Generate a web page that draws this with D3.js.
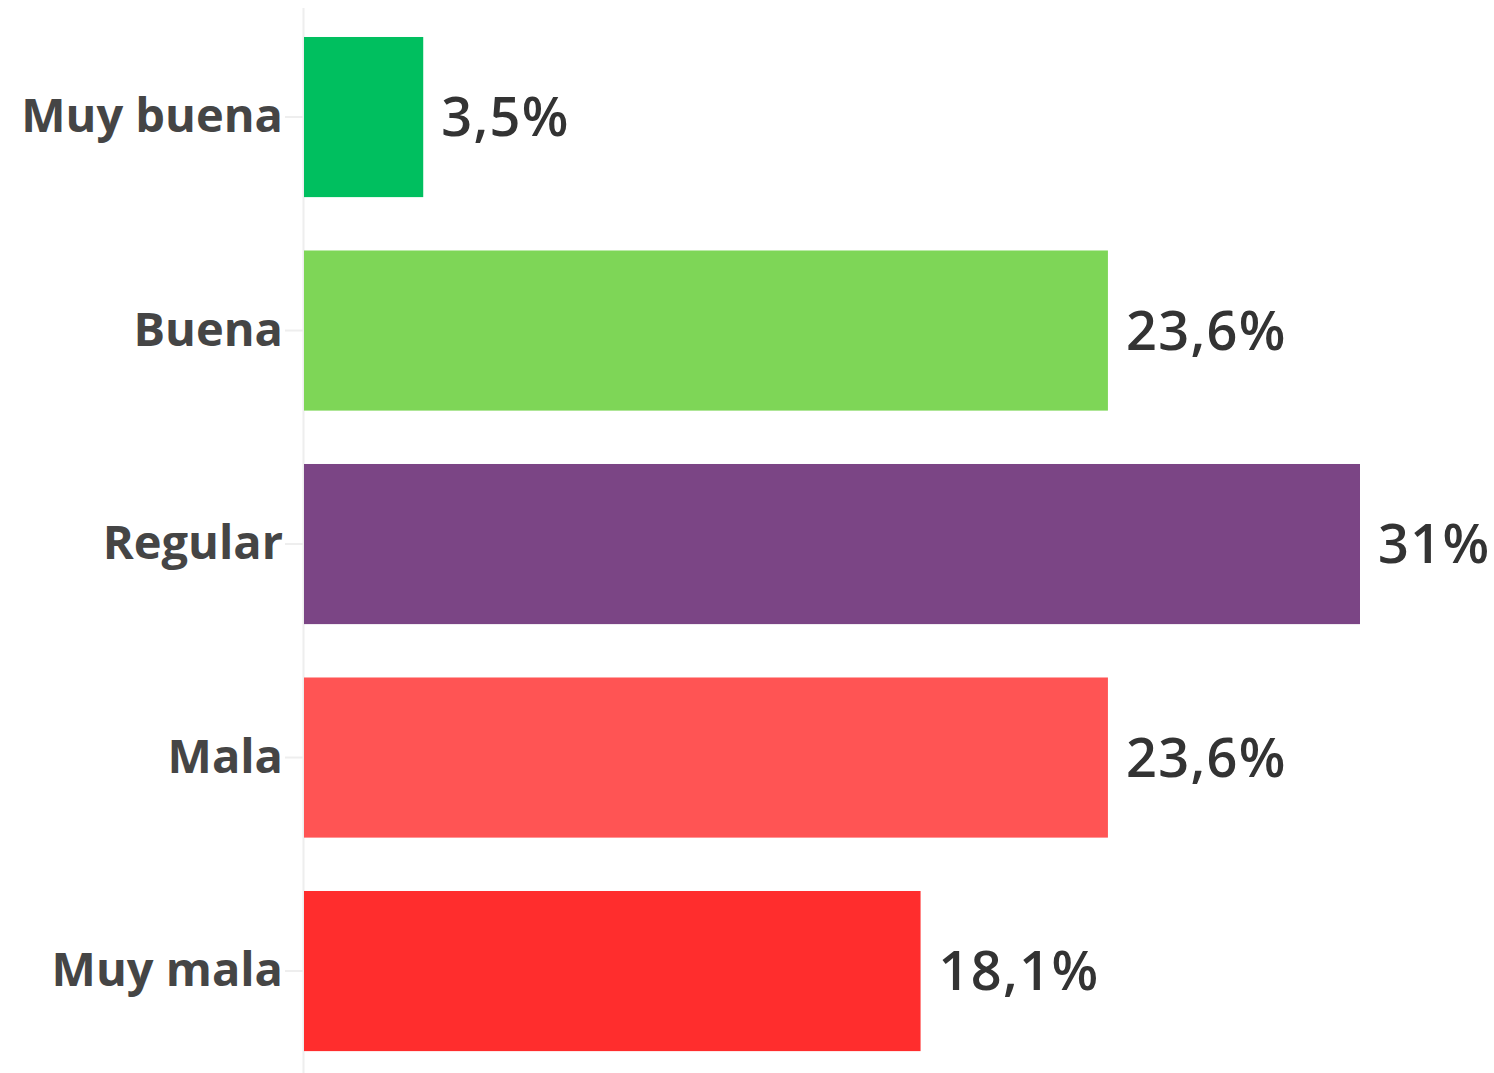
<!DOCTYPE html>
<html><head><meta charset="utf-8">
<script src="https://cdn.jsdelivr.net/npm/d3@7"></script>
<style>html,body{margin:0;padding:0;background:#fff;}</style>
</head><body>
<svg id="chart" width="1494" height="1073"></svg>
<script>
const categories = ["Muy buena", "Buena", "Regular", "Mala", "Muy mala"];
const values = [3.5, 23.6, 31, 23.6, 18.1];
const valueLabels = ["3,5%", "23,6%", "31%", "23,6%", "18,1%"];
const colors = ["#00bf5f", "#7ed657", "#7b4585", "#ff5454", "#ff2d2d"];

const svg = d3.select("#chart");
const W = 1494, H = 1073;

const x = d3.scaleLinear().domain([0, 31]).range([304, 1360]);
const y = d3.scaleBand().domain(categories).range([10.3, 1077.8]).paddingInner(0.25).paddingOuter(0.125);

svg.append("line").attr("x1", 303.5).attr("x2", 303.5).attr("y1", 8).attr("y2", H)
  .attr("stroke", "#eeeeee").attr("stroke-width", 2);

const yAxis = d3.axisLeft(y).tickSize(18).tickPadding(2);
const ga = svg.append("g").attr("transform", "translate(303,0)").call(yAxis);
ga.select(".domain").remove();
ga.selectAll(".tick line").attr("stroke", "#eeeeee").attr("stroke-width", 2);
ga.selectAll(".tick text")
  .attr("font-family", "'Open Sans', sans-serif").attr("font-weight", 700)
  .attr("font-size", 47).attr("fill", "#454545");

svg.selectAll("rect.bar").data(categories).join("rect").attr("class", "bar")
  .attr("x", x(0)).attr("y", d => y(d))
  .attr("width", (d, i) => x(values[i]) - x(0))
  .attr("height", y.bandwidth())
  .attr("fill", (d, i) => colors[i]);

svg.selectAll("text.val").data(categories).join("text").attr("class", "val")
  .attr("x", (d, i) => x(values[i]) + 18)
  .attr("y", d => y(d) + y.bandwidth() / 2)
  .attr("dy", "0.36em")
  .attr("font-family", "'Open Sans', sans-serif").attr("font-weight", 600)
  .attr("font-size", 54).attr("letter-spacing", 1.4).attr("fill", "#333333")
  .text((d, i) => valueLabels[i]);
</script>
</body></html>
